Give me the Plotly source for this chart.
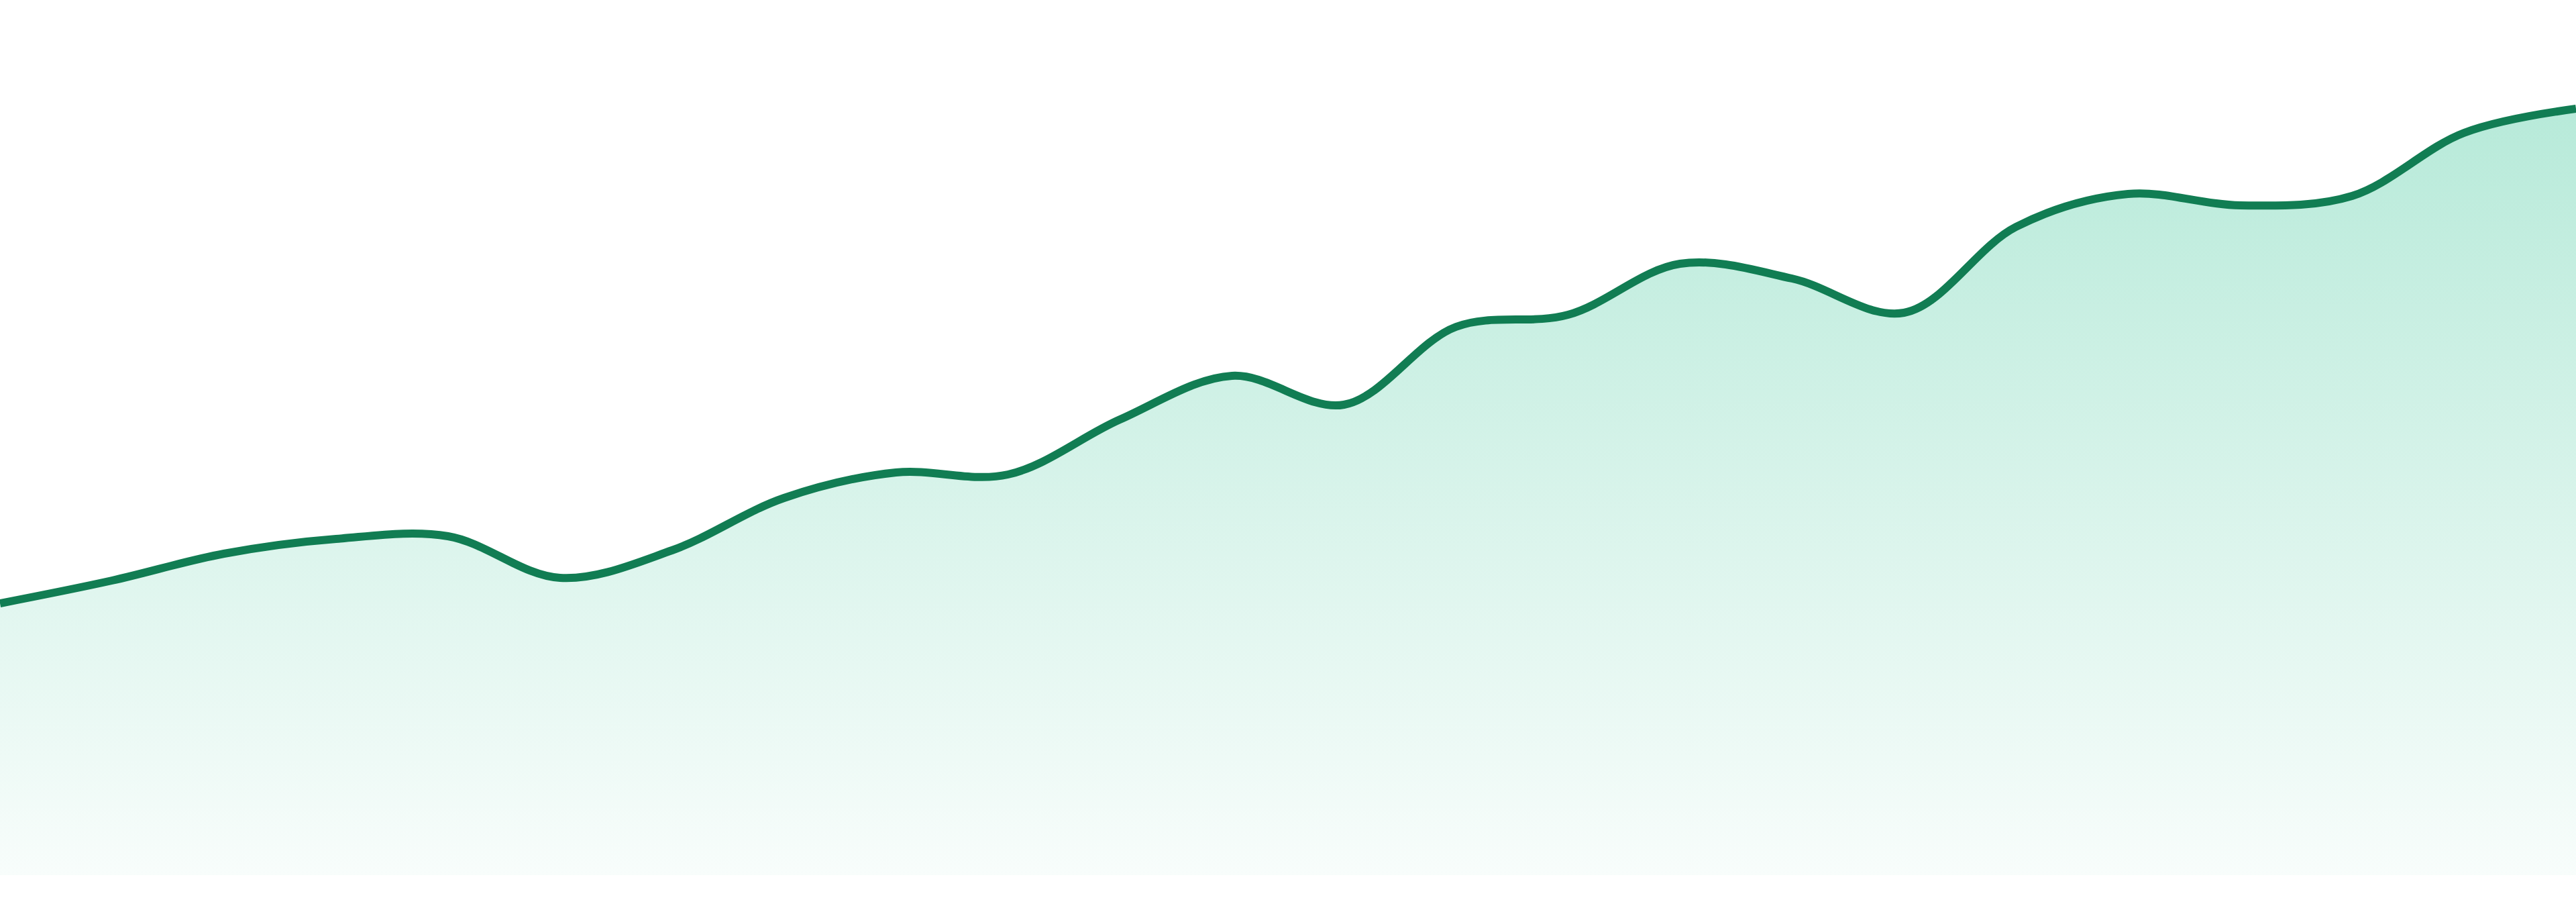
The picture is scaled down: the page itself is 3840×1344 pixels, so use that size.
import plotly.graph_objects as go

# one value per period
periods = list(range(24))
values = [40.5, 43.9, 47.9, 50.1, 50.5, 44.3, 48.4, 56.2, 60.0, 59.7,
          67.9, 74.4, 70.1, 81.7, 83.5, 91.1, 88.9, 83.8, 96.6, 101.5,
          99.8, 101.2, 110.6, 114.2]

line_color = "#117d53"

fig = go.Figure()
fig.add_trace(go.Scatter(
    x=periods,
    y=values,
    mode="lines",
    line=dict(color=line_color, width=12, shape="spline", smoothing=1),
    fill="tozeroy",
    fillgradient=dict(
        type="vertical",
        colorscale=[[0, "rgba(16,185,129,0.03)"], [1, "rgba(16,185,129,0.3)"]],
    ),
    hoverinfo="skip",
    showlegend=False,
))

fig.update_xaxes(visible=False, range=[0, 23])
fig.update_yaxes(visible=False, range=[0, 130.4])
fig.update_layout(
    width=3840,
    height=1344,
    margin=dict(l=0, r=0, t=0, b=40),
    paper_bgcolor="white",
    plot_bgcolor="white",
)

# page body has a default 8px margin, drop it so the chart sits flush
fig.write_html("out.html", config={"displayModeBar": False},
               post_script="document.body.style.margin='0';")
